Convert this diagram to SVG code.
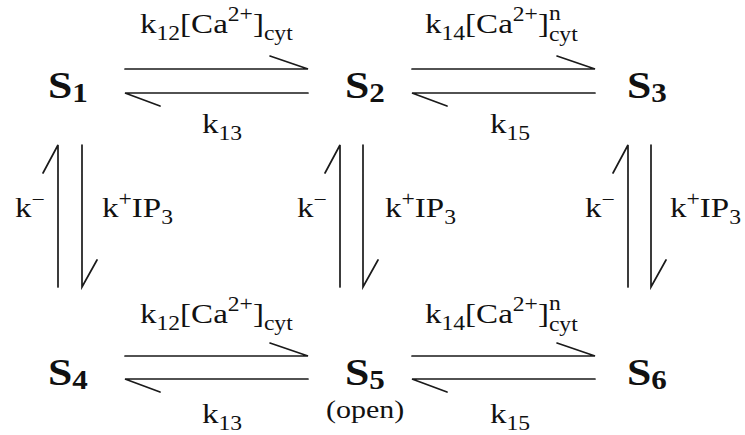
<svg xmlns="http://www.w3.org/2000/svg" width="745" height="435" viewBox="0 0 745 435" font-family="'Liberation Serif', 'DejaVu Serif', serif">
<style>
text{font-family:"Liberation Serif","DejaVu Serif",serif;fill:#111}
.node{font-size:38px;font-weight:bold}
.nsub{font-size:27px}
.lab{font-size:28px}
.sub{font-size:20px}
.open{font-size:25px}
.ln{stroke:#1a1a1a;stroke-width:1.7;fill:none;stroke-linecap:round}
</style>
<rect width="745" height="435" fill="#fff"/>
<g id="S1"><text class="node" transform="translate(48,98) scale(1.15,1)">S<tspan class="nsub" dy="4">1</tspan></text></g>
<g id="S2"><text class="node" transform="translate(345,98) scale(1.15,1)">S<tspan class="nsub" dy="4">2</tspan></text></g>
<g id="S3"><text class="node" transform="translate(627,98) scale(1.15,1)">S<tspan class="nsub" dy="4">3</tspan></text></g>
<g id="S4"><text class="node" transform="translate(48,385) scale(1.15,1)">S<tspan class="nsub" dy="4">4</tspan></text></g>
<g id="S5"><text class="node" transform="translate(345,385) scale(1.15,1)">S<tspan class="nsub" dy="4">5</tspan></text><text class="open" transform="translate(326,418) scale(1.2,1)">(open)</text></g>
<g id="S6"><text class="node" transform="translate(627,385) scale(1.15,1)">S<tspan class="nsub" dy="4">6</tspan></text></g>
<g id="connectors">
<path class="ln" d="M125 69H308L270 56M308 93H125L160 106"/>
<path class="ln" d="M412 69H595L557 56M595 93H412L447 106"/>
<path class="ln" d="M125 356H308L270 343M308 379H125L160 392"/>
<path class="ln" d="M412 356H595L557 343M595 379H412L447 392"/>
<path class="ln" d="M58 287V145L43 173M82 145V287L97 260"/>
<path class="ln" d="M340 287V145L325 173M363 145V287L378 260"/>
<path class="ln" d="M628 287V145L613 173M651 145V287L666 260"/>
</g>
<g id="labels">
<text class="lab" transform="translate(140,33) scale(1.18,1)">k<tspan class="sub" dy="7">12</tspan><tspan dy="-7">[Ca</tspan><tspan class="sub" dy="-12">2+</tspan><tspan dy="12">]</tspan><tspan class="sub" dy="7">cyt</tspan></text>
<text class="lab" transform="translate(202,133) scale(1.18,1)">k<tspan class="sub" dy="7">13</tspan></text>
<text class="lab" transform="translate(425,33) scale(1.18,1)">k<tspan class="sub" dy="7">14</tspan><tspan dy="-7">[Ca</tspan><tspan class="sub" dy="-12">2+</tspan><tspan dy="12">]</tspan><tspan class="sub" dy="-13">n</tspan><tspan class="sub" dx="-10" dy="21">cyt</tspan></text>
<text class="lab" transform="translate(490,133) scale(1.18,1)">k<tspan class="sub" dy="7">15</tspan></text>
<text class="lab" transform="translate(140,323) scale(1.18,1)">k<tspan class="sub" dy="7">12</tspan><tspan dy="-7">[Ca</tspan><tspan class="sub" dy="-12">2+</tspan><tspan dy="12">]</tspan><tspan class="sub" dy="7">cyt</tspan></text>
<text class="lab" transform="translate(202,423) scale(1.18,1)">k<tspan class="sub" dy="7">13</tspan></text>
<text class="lab" transform="translate(425,323) scale(1.18,1)">k<tspan class="sub" dy="7">14</tspan><tspan dy="-7">[Ca</tspan><tspan class="sub" dy="-12">2+</tspan><tspan dy="12">]</tspan><tspan class="sub" dy="-13">n</tspan><tspan class="sub" dx="-10" dy="21">cyt</tspan></text>
<text class="lab" transform="translate(490,423) scale(1.18,1)">k<tspan class="sub" dy="7">15</tspan></text>
<text class="lab" transform="translate(15,217) scale(1.18,1)">k<tspan class="sub" dy="-11">−</tspan></text>
<text class="lab" transform="translate(102,217) scale(1.18,1)">k<tspan class="sub" dy="-11">+</tspan><tspan dy="11">IP</tspan><tspan class="sub" dy="7">3</tspan></text>
<text class="lab" transform="translate(297,217) scale(1.18,1)">k<tspan class="sub" dy="-11">−</tspan></text>
<text class="lab" transform="translate(385,217) scale(1.18,1)">k<tspan class="sub" dy="-11">+</tspan><tspan dy="11">IP</tspan><tspan class="sub" dy="7">3</tspan></text>
<text class="lab" transform="translate(585,217) scale(1.18,1)">k<tspan class="sub" dy="-11">−</tspan></text>
<text class="lab" transform="translate(670,217) scale(1.18,1)">k<tspan class="sub" dy="-11">+</tspan><tspan dy="11">IP</tspan><tspan class="sub" dy="7">3</tspan></text>
</g>
</svg>
